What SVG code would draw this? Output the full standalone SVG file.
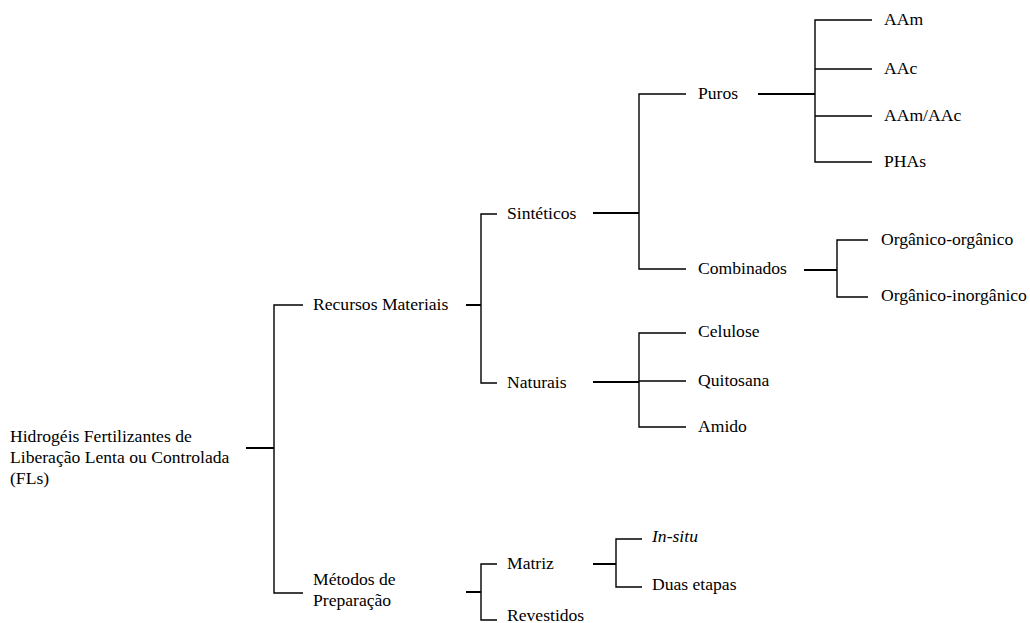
<svg xmlns="http://www.w3.org/2000/svg" width="1030" height="623" viewBox="0 0 1030 623">
<style>
.t text{font-size:17.6px;fill:#000}
.it{font-style:italic}
.b{stroke:#000;stroke-width:1.4;fill:none}
.c{stroke:#000;stroke-width:2;fill:none}
</style>
<rect width="1030" height="623" fill="#fff"/>
<g id="connectors">
<path class="c" d="M246 448H274"/>
<path class="b" d="M303 305H274V593H303"/>
<path class="c" d="M466 305H481"/>
<path class="b" d="M497 214H481V383H497"/>
<path class="c" d="M466 592H481"/>
<path class="b" d="M497 564H481V620H497"/>
<path class="c" d="M593 213H639"/>
<path class="b" d="M686 94H639V269H686"/>
<path class="c" d="M758 94H815"/>
<path class="b" d="M872 20H815V162H872M815 69H872M815 116H872"/>
<path class="c" d="M804 270H837"/>
<path class="b" d="M868 240H837V297H868"/>
<path class="c" d="M593 382H639"/>
<path class="b" d="M686 333H639V427H686M639 381H686"/>
<path class="c" d="M593 564H616"/>
<path class="b" d="M642 539H616V587H642"/>
</g>
<g class="t" font-family="'Liberation Serif', 'Times New Roman', Tinos, serif">
<g id="root"><text x="10" y="442">Hidrogéis Fertilizantes de</text><text x="10" y="463">Liberação Lenta ou Controlada</text><text x="10" y="484">(FLs)</text></g>
<g id="recursos"><text x="313" y="310">Recursos Materiais</text></g>
<g id="metodos"><text x="313" y="585">Métodos de</text><text x="313" y="606">Preparação</text></g>
<g id="sinteticos"><text x="507" y="219">Sintéticos</text></g>
<g id="naturais"><text x="507" y="388">Naturais</text></g>
<g id="puros"><text x="698" y="99">Puros</text></g>
<g id="combinados"><text x="698" y="274">Combinados</text></g>
<g id="aam"><text x="884" y="25">AAm</text></g>
<g id="aac"><text x="884" y="74">AAc</text></g>
<g id="aamaac"><text x="884" y="121">AAm/AAc</text></g>
<g id="phas"><text x="884" y="167">PHAs</text></g>
<g id="org-org"><text x="881" y="245">Orgânico-orgânico</text></g>
<g id="org-inorg"><text x="881" y="301">Orgânico-inorgânico</text></g>
<g id="celulose"><text x="698" y="337">Celulose</text></g>
<g id="quitosana"><text x="698" y="386">Quitosana</text></g>
<g id="amido"><text x="698" y="432">Amido</text></g>
<g id="matriz"><text x="507" y="569">Matriz</text></g>
<g id="revestidos"><text x="507" y="621">Revestidos</text></g>
<g id="insitu"><text class="it" x="652" y="542">In-situ</text></g>
<g id="duas"><text x="652" y="590">Duas etapas</text></g>
</g>
</svg>
